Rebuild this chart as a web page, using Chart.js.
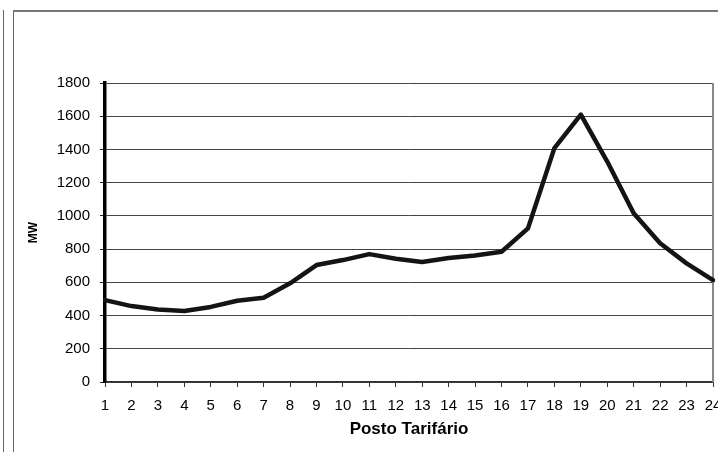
<!DOCTYPE html>
<html>
<head>
<meta charset="utf-8">
<script src="https://cdn.jsdelivr.net/npm/chart.js@4/dist/chart.umd.min.js"></script>
<style>
  html, body { margin: 0; padding: 0; background: #fff; }
  canvas { display: block; }
</style>
</head>
<body>
<canvas id="curva" width="718" height="452"></canvas>
<script>
// Hourly load profile: demand (MW) per tariff period
const postos = ['1','2','3','4','5','6','7','8','9','10','11','12',
                '13','14','15','16','17','18','19','20','21','22','23','24'];
const demandaMW = [493, 457, 437, 428, 452, 489, 507, 594, 704, 734, 770, 742,
                   722, 746, 762, 784, 925, 1408, 1610, 1327, 1016, 835, 714, 613];
const yTickValues = [0, 200, 400, 600, 800, 1000, 1200, 1400, 1600, 1800];

const FONT = "'Liberation Sans', Arial, Helvetica, sans-serif";

// White page plus the worksheet-style frame lines and the plot's right edge
const framePlugin = {
  id: 'frame',
  beforeDraw(chart) {
    const ctx = chart.ctx;
    ctx.save();
    ctx.fillStyle = '#fff';
    ctx.fillRect(0, 0, chart.width, chart.height);
    ctx.strokeStyle = '#666';
    ctx.lineWidth = 1;
    ctx.beginPath();
    ctx.moveTo(3.5, 10); ctx.lineTo(3.5, chart.height);
    ctx.moveTo(13.5, 10); ctx.lineTo(13.5, chart.height);
    ctx.stroke();
    ctx.strokeStyle = '#777';
    ctx.lineWidth = 2;
    ctx.beginPath();
    ctx.moveTo(13, 11); ctx.lineTo(chart.width, 11);
    ctx.stroke();
    ctx.restore();
  },
  beforeDatasetsDraw(chart) {
    const { ctx, chartArea } = chart;
    ctx.save();
    ctx.strokeStyle = '#888';
    ctx.lineWidth = 2;
    ctx.beginPath();
    ctx.moveTo(chartArea.right, chartArea.top);
    ctx.lineTo(chartArea.right, chartArea.bottom);
    ctx.stroke();
    ctx.restore();
  }
};

new Chart(document.getElementById('curva'), {
  type: 'line',
  data: {
    labels: postos,
    datasets: [{
      data: demandaMW,
      borderColor: '#141414',
      borderWidth: 4.5,
      pointRadius: 0,
      tension: 0,
      borderJoinStyle: 'round',
      borderCapStyle: 'round',
      fill: false
    }]
  },
  options: {
    responsive: false,
    devicePixelRatio: 1,
    animation: false,
    layout: { padding: { left: 14, top: 83, right: 5, bottom: 0 } },
    plugins: {
      legend: { display: false },
      tooltip: { enabled: false }
    },
    scales: {
      x: {
        type: 'category',
        offset: false,
        grid: {
          drawOnChartArea: false,
          drawTicks: true,
          tickLength: 5,
          tickColor: '#333',
          tickWidth: 1
        },
        border: { display: true, color: '#333', width: 1.5 },
        ticks: {
          autoSkip: false,
          maxRotation: 0,
          minRotation: 0,
          padding: 10,
          color: '#000',
          font: { family: FONT, size: 15 }
        },
        title: {
          display: true,
          text: 'Posto Tarifário',
          color: '#000',
          font: { family: FONT, size: 17, weight: 'bold' },
          padding: { top: 0, bottom: 12 }
        },
        afterFit(s) {
          s.height = 70;
          s.paddingLeft = 0;
          s.paddingRight = 0;
        }
      },
      y: {
        min: 0,
        max: 1800,
        afterBuildTicks(s) {
          s.ticks = yTickValues.map(v => ({ value: v }));
        },
        grid: {
          color: '#444',
          lineWidth: 1,
          drawTicks: true,
          tickLength: 5,
          tickColor: '#222'
        },
        border: { display: true, color: '#000', width: 3.5 },
        ticks: {
          padding: 10,
          color: '#000',
          font: { family: FONT, size: 15 },
          callback: v => String(v)
        },
        title: {
          display: true,
          text: 'MW',
          color: '#000',
          font: { family: FONT, size: 12, weight: 'bold' },
          padding: { top: 12, bottom: 0 }
        },
        afterFit(s) {
          s.width = 91;
          s.paddingTop = 0;
          s.paddingBottom = 0;
        }
      }
    }
  },
  plugins: [framePlugin]
});
</script>
</body>
</html>
